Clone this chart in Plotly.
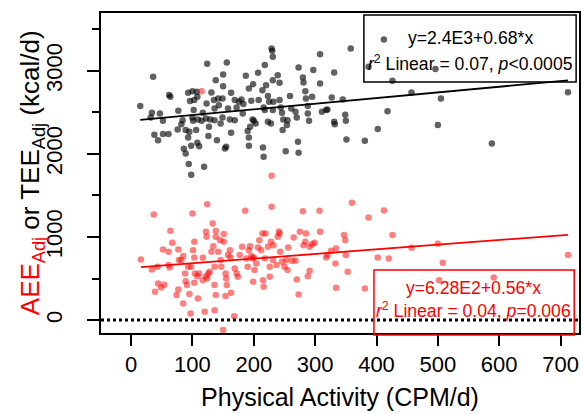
import plotly.graph_objects as go

# ---- data ----
tee_pa = [15,36,34,32,47,52,38,44,52,61,62,64,77,76,82,84,89,93,95,86,89,98,94,98,93,96,100,103,102,100,101,107,108,109,106,108,111,119,115,117,122,123,124,126,127,129,131,136,135,138,136,142,143,146,140,150,150,149,149,156,158,155,153,161,163,163,169,172,169,176,180,183,182,187,192,194,190,192,192,199,196,198,200,203,207,208,214,216,218,215,216,218,220,223,225,223,228,229,230,231,231,232,231,239,242,242,244,246,247,248,254,255,252,259,261,268,270,272,273,273,280,281,284,285,288,288,290,297,295,308,308,311,318,320,327,331,331,332,345,349,350,351,358,381,402,412,387,496,426,457,505,418,500,588,712]
tee_adj = [2575,2927,2494,2438,2486,2398,2229,2165,2238,2238,2707,2687,2518,2294,2358,2406,2286,2198,2266,2061,2005,2097,1877,1748,2735,2635,2755,2647,2527,2438,2398,2747,2687,2414,2286,2133,2093,1845,2398,2494,2426,2607,3084,2214,2326,2414,2739,2547,2647,2887,2406,2667,2586,2366,2165,2956,2815,2667,2438,3100,2547,2085,2065,2414,2735,2254,2647,2559,2406,2627,2655,2599,2486,2940,2787,2326,2274,2198,2097,2839,2639,2414,2398,2366,2976,2647,2767,2559,2527,2077,1965,3068,2827,2695,2627,2386,2366,3268,3240,3168,2887,2627,2527,2947,2855,2647,2559,2494,2286,2414,2346,2406,2033,2695,2547,2506,2438,2145,2013,3040,2920,2859,2755,2667,2575,2486,2398,3008,2687,3200,2847,2506,2527,2535,2679,2980,2386,2358,2655,2470,2398,2173,3268,2157,2298,3377,3047,3020,2879,2739,2667,2514,2349,2126,2743]

aee_pa = [16,37,34,43,39,44,49,54,64,67,61,63,52,61,77,78,74,77,82,85,88,89,91,93,85,95,97,100,103,101,103,98,104,108,111,103,109,117,117,122,124,126,120,136,124,122,123,128,131,134,133,138,138,136,136,138,142,145,146,147,151,151,154,155,156,154,158,161,162,163,168,169,172,174,177,181,186,188,190,192,194,196,198,200,199,201,204,207,209,212,214,215,216,218,219,223,226,226,228,229,231,232,237,239,242,243,241,246,250,253,255,256,262,265,268,270,273,275,280,281,284,285,288,291,291,295,299,307,308,318,320,326,334,333,334,347,349,350,353,360,381,387,402,412,426,457,500,420,508,591,502,712,115,229,150]
aee_adj = [730,1271,610,641,341,441,393,425,1075,930,662,634,850,822,850,722,301,369,722,770,561,469,421,641,201,313,80,1283,942,842,754,641,561,529,561,449,261,750,481,529,501,561,100,120,1395,1063,1002,581,822,890,1163,1071,1002,641,421,301,822,962,722,641,1035,942,561,501,421,289,782,842,754,329,48,622,561,521,782,882,1315,742,641,842,890,770,742,754,461,602,682,874,962,842,1043,481,401,742,1043,882,641,521,942,1363,722,902,662,1002,1043,822,1065,702,641,722,602,874,714,994,714,489,309,1063,1311,902,942,1043,529,593,882,914,930,1315,1063,754,782,834,862,682,389,1023,962,782,581,1411,381,1235,754,1320,1023,870,918,742,690,513,481,782,2755,1736,-120]

# regression coefficients (intercept, slope) from the chart's legend boxes
tee_fit = [2400, 0.68]
aee_fit = [628, 0.56]

x_ticks = [0, 100, 200, 300, 400, 500, 600, 700]
y_ticks = [0, 1000, 2000, 3000]

tee_label = ["y=2.4E3+0.68*x", "<i>r</i><sup>2</sup> Linear = 0.07, <i>p</i>&lt;0.0005"]
aee_label = ["y=6.28E2+0.56*x", "<i>r</i><sup>2</sup> Linear = 0.04, <i>p</i>=0.006"]

FONT = "Liberation Sans, Arial, sans-serif"
RED = "#ff0000"

fig = go.Figure()

fig.add_trace(go.Scatter(x=tee_pa, y=tee_adj, mode="markers",
                         marker=dict(size=6.5, color="rgba(0,0,0,0.62)", line=dict(width=0)),
                         showlegend=False, hoverinfo="skip"))
fig.add_trace(go.Scatter(x=aee_pa, y=aee_adj, mode="markers",
                         marker=dict(size=6.5, color="rgba(255,0,0,0.5)", line=dict(width=0)),
                         showlegend=False, hoverinfo="skip"))

def fit_line(xs, coef):
    x0, x1 = min(xs), max(xs)
    return [x0, x1], [coef[0] + coef[1] * x0, coef[0] + coef[1] * x1]

lx, ly = fit_line(tee_pa, tee_fit)
fig.add_trace(go.Scatter(x=lx, y=ly, mode="lines", line=dict(color="black", width=1.8),
                         showlegend=False, hoverinfo="skip"))
lx, ly = fit_line(aee_pa, aee_fit)
fig.add_trace(go.Scatter(x=lx, y=ly, mode="lines", line=dict(color=RED, width=1.8),
                         showlegend=False, hoverinfo="skip"))

# dotted zero line
fig.add_shape(type="line", xref="paper", yref="y", x0=0, x1=1, y0=0, y1=0,
              line=dict(color="black", width=3, dash="3px,3px"))

# legend-like boxes
fig.add_shape(type="rect", xref="paper", yref="paper", x0=0.55, x1=0.994, y0=0.784, y1=0.994,
              line=dict(color="black", width=1.5))
fig.add_shape(type="rect", xref="paper", yref="paper", x0=0.571, x1=0.990, y0=-0.006, y1=0.197,
              line=dict(color=RED, width=1.5))

for txt, yy in zip(tee_label, [0.921, 0.843]):
    fig.add_annotation(xref="paper", yref="paper", x=0.773, y=yy, text=txt, showarrow=False,
                       font=dict(family=FONT, size=17.6, color="black"),
                       xanchor="center", yanchor="middle")
for txt, yy in zip(aee_label, [0.140, 0.072]):
    fig.add_annotation(xref="paper", yref="paper", x=0.780, y=yy, text=txt, showarrow=False,
                       font=dict(family=FONT, size=17.6, color=RED),
                       xanchor="center", yanchor="middle")

# y-axis title (two colours)
fig.add_annotation(xref="paper", yref="paper", x=-0.146, y=0.5, textangle=-90,
                   text='<span style="color:#ff0000">AEE<sub>Adj</sub></span> or TEE<sub>Adj</sub> (kcal/d)',
                   showarrow=False, font=dict(family=FONT, size=26, color="black"),
                   xanchor="center", yanchor="middle")

fig.update_layout(
    width=583, height=414,
    margin=dict(l=101, r=2, t=13, b=81),
    paper_bgcolor="white", plot_bgcolor="white",
    font=dict(family=FONT, color="black"),
    xaxis=dict(range=[-49, 730], tickvals=x_ticks, ticktext=[str(v) for v in x_ticks],
               ticks="outside", ticklen=11, tickwidth=1.5, tickcolor="black",
               showline=True, linecolor="black", linewidth=1.5, mirror=True,
               showgrid=False, zeroline=False, tickfont=dict(size=22),
               ticklabelstandoff=0,
               title=dict(text="Physical Activity (CPM/d)", font=dict(size=25), standoff=12)),
    yaxis=dict(range=[-155, 3695], tickvals=y_ticks, ticktext=[str(v) for v in y_ticks],
               tickangle=-90, ticklabelstandoff=16,
               ticks="outside", ticklen=12, tickwidth=1.5, tickcolor="black",
               minor=dict(tick0=0, dtick=500, ticks="outside", ticklen=7, tickwidth=1.5,
                          tickcolor="black", showgrid=False),
               showline=True, linecolor="black", linewidth=1.5, mirror=True,
               showgrid=False, zeroline=False, tickfont=dict(size=22)),
)

fig.write_html("out.html", config={"responsive": False, "displayModeBar": False},
               post_script="document.body.style.margin='0';document.body.style.overflow='hidden';")
